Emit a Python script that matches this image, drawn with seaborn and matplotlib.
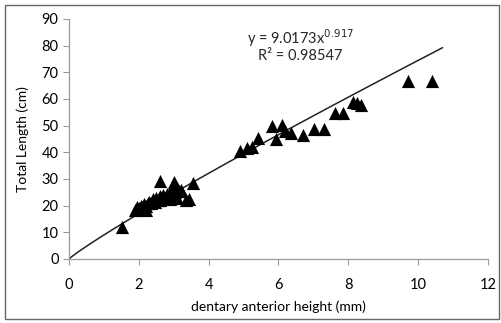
import numpy as np
import pandas as pd
import matplotlib
matplotlib.use("Agg")
import matplotlib.pyplot as plt
import seaborn as sns
from matplotlib.patches import Rectangle

# Data
dentary_height = [1.53, 1.9, 1.95, 2.0, 2.05, 2.1, 2.15, 2.2, 2.25, 2.3, 2.35, 2.4, 2.45,
                  2.5, 2.55, 2.6, 2.65, 2.7, 2.75, 2.8, 2.85, 2.9, 2.95, 3.0, 3.05, 3.1,
                  3.15, 3.2, 2.61, 3.0, 3.56, 3.35, 3.45, 2.2, 2.6, 2.9, 3.1,
                  4.9, 5.09, 5.23, 5.42, 5.8, 6.11, 5.93, 6.19, 6.36, 6.71, 7.02, 7.31,
                  7.62, 7.84, 8.13, 8.24, 8.36, 9.7, 10.41]
total_length = [12.1, 18.5, 19.5, 19.0, 20.0, 19.5, 20.5, 20.0, 21.0, 21.5, 21.0, 22.5, 21.5,
                23.0, 22.0, 23.5, 22.5, 24.0, 23.0, 24.5, 23.5, 25.0, 24.0, 26.0, 25.0, 26.5,
                25.5, 26.0, 29.2, 29.0, 28.4, 22.0, 22.4, 18.5, 22.0, 22.5, 23.0,
                40.6, 41.5, 42.1, 45.2, 50.0, 50.2, 44.9, 48.1, 47.4, 46.5, 48.6, 48.6,
                54.6, 54.6, 59.0, 58.4, 57.7, 66.9, 66.9]

fit_a = 9.0173
fit_b = 0.917
fit_x_range = [0.0, 10.7]
eq_text = r"y = 9.0173x$^{0.917}$"
r2_text = "R² = 0.98547"

x_ticks = [0, 2, 4, 6, 8, 10, 12]
y_ticks = [0, 10, 20, 30, 40, 50, 60, 70, 80, 90]

df = pd.DataFrame({"x": dentary_height, "y": total_length})
fx = np.linspace(fit_x_range[0], fit_x_range[1], 200)
fit_df = pd.DataFrame({"x": fx, "y": fit_a * fx ** fit_b})

sns.set_theme(style="white")
plt.rcParams["font.family"] = ["Lato", "DejaVu Sans"]

fig = plt.figure(figsize=(5.02, 3.23), dpi=100)
ax = fig.add_axes([69 / 502, 1 - 259 / 323, (488 - 69) / 502, (259 - 19) / 323])

sns.lineplot(data=fit_df, x="x", y="y", ax=ax, color="#222222", linewidth=1.1,
             zorder=2)
sns.scatterplot(data=df, x="x", y="y", ax=ax, marker="^", color="black", s=90,
                edgecolor="black", linewidth=0, zorder=3)

ax.set_xlim(0, 12)
ax.set_ylim(0, 90)
ax.set_xticks(x_ticks)
ax.set_yticks(y_ticks)
ax.set_xlabel("dentary anterior height (mm)", fontsize=10, color="black", labelpad=6)
ax.set_ylabel("Total Length (cm)", fontsize=10, color="black", labelpad=9)
ax.tick_params(axis="both", labelsize=10.5, colors="#999999", labelcolor="black",
               length=4, width=0.8, direction="out", bottom=True, left=True)
ax.tick_params(axis="x", pad=10)
for side in ["top", "right"]:
    ax.spines[side].set_visible(False)
for side in ["left", "bottom"]:
    ax.spines[side].set_color("#999999")
    ax.spines[side].set_linewidth(0.9)

ax.text(6.62, 83.0, eq_text, ha="center", va="center", fontsize=10.5)
ax.text(6.62, 76.3, r2_text, ha="center", va="center", fontsize=10.5)

fig.patches.append(Rectangle((5 / 502, 4 / 323), 494 / 502, 314 / 323,
                             transform=fig.transFigure, fill=False,
                             edgecolor="#666666", linewidth=1.0))

fig.savefig("out.png", dpi=100)
